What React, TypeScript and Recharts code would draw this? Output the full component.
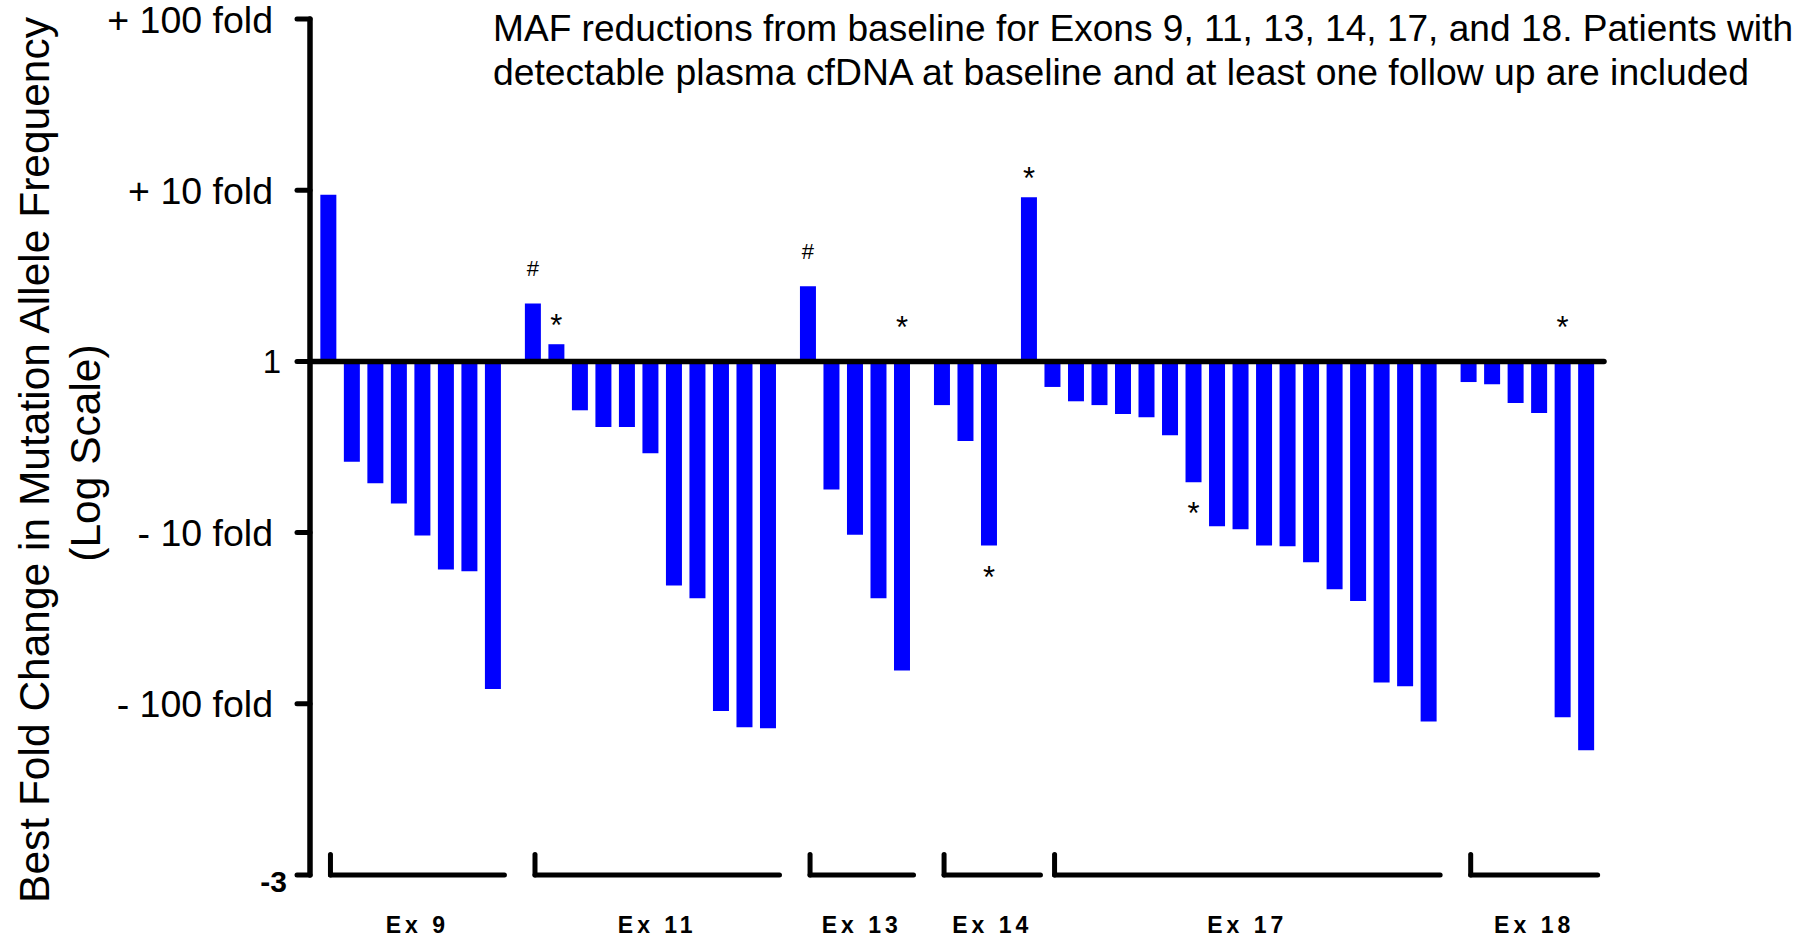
import { BarChart, Bar, XAxis, YAxis, ReferenceLine, LabelList } from 'recharts'

const FONT = '"Liberation Sans", Arial, Helvetica, sans-serif'

const exons = ['Ex 9', 'Ex 11', 'Ex 13', 'Ex 14', 'Ex 17', 'Ex 18']

// best fold change per patient (+ = increase, - = reduction)
const ex9 = [9.4, -3.85, -5.15, -6.75, -10.4, -16.4, -16.8, -82]
const ex11 = [2.18, 1.26, -1.93, -2.42, -2.42, -3.44, -20.4, -24.2, -110, -137, -139]
const ex13 = [2.75, -5.6, -10.3, -24.2, -64]
const ex14 = [-1.8, -2.92, -11.9, 9.1]
const ex17 = [
  -1.41, -1.71, -1.8, -2.03, -2.12, -2.7, -5.08, -9.18, -9.57, -11.9, -12.0, -14.9, -21.4, -25.1, -75,
  -79, -127,
]
const ex18 = [-1.32, -1.36, -1.75, -2.0, -120, -187]
const exonValues = [ex9, ex11, ex13, ex14, ex17, ex18]

// footnote marks: exon, bar index, mark, where it sits
const notes: [string, number, string, string][] = [
  ['Ex 11', 0, '#', 'above'],
  ['Ex 11', 1, '*', 'above'],
  ['Ex 13', 0, '#', 'above'],
  ['Ex 13', 4, '*', 'base'],
  ['Ex 14', 2, '*', 'below'],
  ['Ex 14', 3, '*', 'above'],
  ['Ex 17', 6, '*', 'below'],
  ['Ex 18', 4, '*', 'base'],
]

const yTicks = [-3, -2, -1, 0, 1, 2]
const yTickLabels = ['-3', '- 100 fold', '- 10 fold', '1', '+ 10 fold', '+ 100 fold']

const titleLines = [
  'MAF reductions from baseline for Exons 9, 11, 13, 14, 17, and 18. Patients with',
  'detectable plasma cfDNA at baseline and at least one follow up are included',
]
const yLabelLines = ['Best Fold Change in Mutation Allele Frequency', '(Log Scale)']

// layout: extra space (in bar slots) between exon groups
const GAP = 0.7

const rows: { pos: number; log: number; note?: string }[] = []
const brackets: { exon: string; x1: number; x2: number }[] = []
let pos = 0
exons.forEach((exon, g) => {
  if (g > 0 && exon !== 'Ex 17') pos += GAP
  const start = pos
  exonValues[g].forEach((v, i) => {
    if (exon === 'Ex 14' && i === 3) pos += GAP
    const n = notes.find((d) => d[0] === exon && d[1] === i)
    rows.push({
      pos,
      log: Math.sign(v) * Math.log10(Math.abs(v)),
      note: n ? `${n[3]}:${n[2]}` : undefined,
    })
    pos += 1
  })
  brackets.push({ exon, x1: start + 0.1, x2: pos - 1 + 0.5 })
})
const labelTicks = brackets.map((b) => (b.x1 + b.x2) / 2)

const YTick = (props: any) => {
  const { x, y, payload } = props
  const v = payload.value
  const label = yTickLabels[yTicks.indexOf(v)]
  if (v === -3) {
    return (
      <text x={x + 14} y={y + 17} textAnchor="end" fontSize={30} fontWeight={700} fontFamily={FONT} fill="#000">
        {label}
      </text>
    )
  }
  return (
    <text
      x={x + (v === 0 ? 8 : 0)}
      y={y}
      dy="0.36em"
      textAnchor="end"
      fontSize={v === 0 ? 33 : 37.5}
      fontFamily={FONT}
      fill="#000"
    >
      {label}
    </text>
  )
}

const XTick = (props: any) => {
  const { x, y, payload } = props
  const i = labelTicks.findIndex((t) => Math.abs(t - payload.value) < 1e-6)
  return (
    <text x={x} y={y + 58} textAnchor="middle" fontSize={23} fontWeight={700} letterSpacing={4} fontFamily={FONT} fill="#000">
      {i >= 0 ? brackets[i].exon : ''}
    </text>
  )
}

const renderNote = (props: any) => {
  const { x, y, width, height, value } = props
  if (!value) return null
  const [side, mark] = String(value).split(':')
  const top = Math.min(y, y + height)
  const bottom = Math.max(y, y + height)
  const cx = x + width / 2
  let ty = top - 8
  if (mark === '#') ty = top - 27
  else if (side === 'base') ty = top - 23
  else if (side === 'below') ty = bottom + 42
  return (
    <text x={cx} y={ty} textAnchor="middle" fontSize={mark === '#' ? 22 : 31} fontFamily={FONT} fill="#000">
      {mark}
    </text>
  )
}

export default function App() {
  return (
    <div style={{ position: 'absolute', left: 0, top: 0, width: 1815, height: 937, background: '#fff' }}>
      <BarChart width={1815} height={937} data={rows} margin={{ top: 19, right: 211, bottom: 2, left: 0 }}>
        <XAxis
          type="number"
          dataKey="pos"
          domain={[-0.77, 54.27]}
          allowDataOverflow
          ticks={labelTicks}
          interval={0}
          tick={<XTick />}
          axisLine={false}
          tickLine={false}
          tickSize={0}
          tickMargin={0}
          height={60}
        />
        <YAxis
          type="number"
          domain={[-3, 2]}
          ticks={yTicks}
          interval={0}
          allowDataOverflow
          width={310}
          tickSize={13}
          tickMargin={24}
          tick={<YTick />}
          tickLine={{ stroke: '#000', strokeWidth: 5, strokeLinecap: 'round' }}
          axisLine={{ stroke: '#000', strokeWidth: 5.5, strokeLinecap: 'round' }}
        />
        <Bar dataKey="log" fill="#0000ff" barSize={16} isAnimationActive={false}>
          <LabelList dataKey="note" content={renderNote} />
        </Bar>
        <ReferenceLine y={0} stroke="#000" strokeWidth={5.5} strokeLinecap="round" ifOverflow="visible" />
        {brackets.map((b) => (
          <ReferenceLine
            key={b.exon + 'h'}
            segment={[
              { x: b.x1, y: -3 },
              { x: b.x2, y: -3 },
            ]}
            stroke="#000"
            strokeWidth={5}
            strokeLinecap="round"
            ifOverflow="visible"
          />
        ))}
        {brackets.map((b) => (
          <ReferenceLine
            key={b.exon + 'v'}
            segment={[
              { x: b.x1, y: -3 },
              { x: b.x1, y: -2.88 },
            ]}
            stroke="#000"
            strokeWidth={5}
            strokeLinecap="round"
            ifOverflow="visible"
          />
        ))}
      </BarChart>
      <svg
        width={1815}
        height={937}
        style={{ position: 'absolute', left: 0, top: 0, pointerEvents: 'none' }}
        fontFamily={FONT}
      >
        {titleLines.map((t, i) => (
          <text
            key={i}
            x={493}
            y={41 + i * 44}
            fontSize={37}
            fill="#000"
            textLength={i === 0 ? 1300 : 1256}
            lengthAdjust="spacingAndGlyphs"
          >
            {t}
          </text>
        ))}
        {yLabelLines.map((t, i) => (
          <text
            key={i}
            transform={`translate(${i === 0 ? 49 : 100},${i === 0 ? 460 : 453}) rotate(-90)`}
            textAnchor="middle"
            fontSize={42.5}
            fill="#000"
          >
            {t}
          </text>
        ))}
      </svg>
    </div>
  )
}
